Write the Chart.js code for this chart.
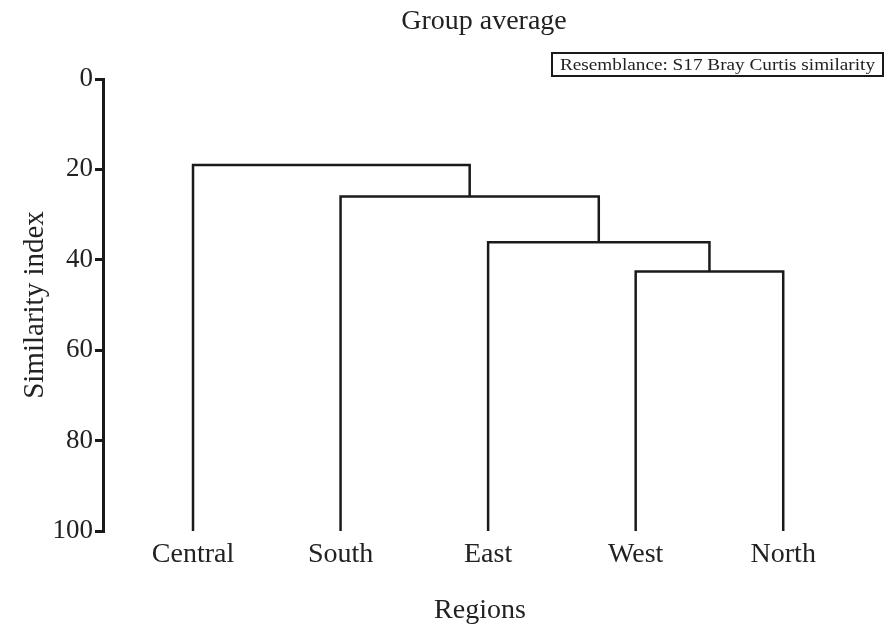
<!DOCTYPE html>
<html>
<head>
<meta charset="utf-8">
<script src="https://cdn.jsdelivr.net/npm/chart.js@4.4.0/dist/chart.umd.min.js"></script>
<style>
  body { margin: 0; background: #fff; }
  #wrap { width: 886px; height: 631px; position: relative; }
</style>
</head>
<body>
<div id="wrap"><canvas id="dendro"></canvas></div>
<script>
// leaves in plot order
const regions = ['Central', 'South', 'East', 'West', 'North']
// merges: [left node, right node, similarity level]; nodes 0-4 are leaves, 5+ are merges in order
const mergeLeft = [3, 2, 1, 0]
const mergeRight = [4, 5, 6, 7]
const mergeLevel = [42.6, 36.1, 26.0, 19.0]
const yTicks = [0, 20, 40, 60, 80, 100]
const leafLevel = 100

const serif = "'Liberation Serif', 'Times New Roman', serif"
const ink = '#1a1a1a'

// node positions: leaves sit at their index, merges at midpoint of children
function buildLinks() {
  let nx = regions.map((r, i) => i)
  let ny = regions.map(() => leafLevel)
  let sets = []
  for (let i = 0; i < mergeLevel.length; i++) {
    let a = mergeLeft[i], b = mergeRight[i], h = mergeLevel[i]
    sets.push({
      data: [
        {x: nx[a], y: ny[a]},
        {x: nx[a], y: h},
        {x: nx[b], y: h},
        {x: nx[b], y: ny[b]}
      ],
      showLine: true,
      borderColor: ink,
      borderWidth: 2.5,
      pointRadius: 0,
      fill: false
    })
    nx.push((nx[a] + nx[b]) / 2)
    ny.push(h)
  }
  return sets
}

const boxPlugin = {
  id: 'boxPlugin',
  afterDraw(chart) {
    let ctx = chart.ctx
    let area = chart.chartArea
    ctx.save()
    // title
    ctx.fillStyle = '#222'
    ctx.font = '28px ' + serif
    ctx.textAlign = 'center'
    ctx.textBaseline = 'middle'
    ctx.fillText('Group average', (area.left + area.right) / 2 + 4, 22)
    // resemblance box
    let bx = 552, by = 53, bw = 331, bh = 23
    ctx.lineWidth = 2
    ctx.strokeStyle = ink
    ctx.strokeRect(bx, by, bw, bh)
    let txt = 'Resemblance: S17 Bray Curtis similarity'
    ctx.font = '16px ' + serif
    let w = ctx.measureText(txt).width
    let target = bw - 16
    ctx.translate(bx + bw / 2, by + bh / 2 + 1)
    ctx.scale(target / w, 1)
    ctx.fillText(txt, 0, 0)
    ctx.restore()
  }
}

new Chart(document.getElementById('dendro'), {
  type: 'scatter',
  data: { datasets: buildLinks() },
  plugins: [boxPlugin],
  options: {
    responsive: true,
    maintainAspectRatio: false,
    animation: false,
    layout: { padding: { top: 79, right: 29, left: 0, bottom: 0 } },
    plugins: { legend: { display: false }, tooltip: { enabled: false } },
    scales: {
      x: {
        type: 'linear',
        min: -0.61,
        max: 4.5,
        afterBuildTicks(scale) {
          scale.ticks = regions.map((r, i) => ({ value: i }))
        },
        afterFit(scale) { scale.height = 100 },
        border: { display: false },
        grid: { display: false, drawTicks: false },
        ticks: {
          padding: 7,
          color: '#222',
          font: { family: serif, size: 28 },
          maxRotation: 0,
          callback: (v) => regions[v]
        },
        title: {
          display: true,
          text: 'Regions',
          color: '#222',
          font: { family: serif, size: 28 },
          padding: { top: 0, bottom: 4 }
        }
      },
      y: {
        type: 'linear',
        reverse: true,
        min: 0,
        max: 100,
        afterBuildTicks(scale) {
          scale.ticks = yTicks.map(v => ({ value: v }))
        },
        afterFit(scale) { scale.width = 103 },
        border: { display: true, color: ink, width: 3 },
        grid: { drawOnChartArea: false, drawTicks: true, tickLength: 8, color: ink, lineWidth: 3 },
        ticks: {
          padding: 2,
          color: '#222',
          font: { family: serif, size: 27 }
        },
        title: {
          display: true,
          text: 'Similarity index',
          color: '#222',
          font: { family: serif, size: 29 },
          padding: { top: 18, bottom: 0 }
        }
      }
    }
  }
})
</script>
</body>
</html>
